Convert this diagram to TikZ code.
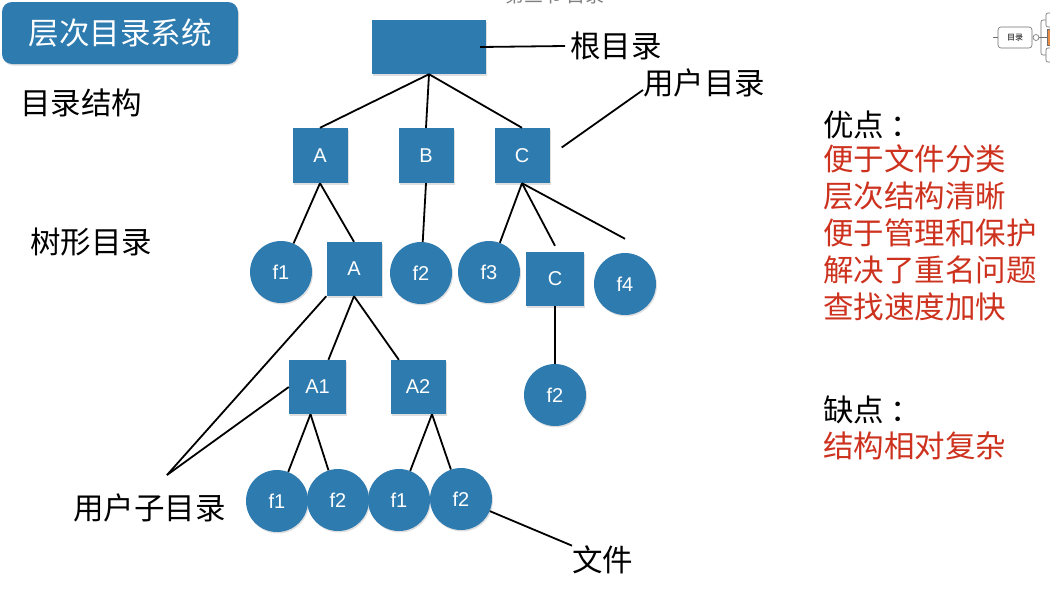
\documentclass[tikz,border=0pt]{standalone}
\usepackage{fontspec}
\setmainfont{Liberation Sans}
\newfontfamily\cjk{Noto Sans CJK SC}
\usetikzlibrary{shadows}
\definecolor{dirblue}{RGB}{46,123,176}
\definecolor{prored}{RGB}{205,50,30}
\definecolor{mapgray}{RGB}{110,110,110}
\definecolor{maporange}{RGB}{232,140,70}
\newcommand{\dirsize}{55pt}
\newcommand{\fnodesize}{62pt}
\newcommand{\cjksize}{\fontsize{30.5}{37}\selectfont}
\newcommand{\namesize}{\fontsize{20}{22}\selectfont}
\tikzset{
  softshadow/.style={drop shadow={shadow xshift=1pt, shadow yshift=-1.5pt, opacity=0.25}},
  dirbox/.style={rectangle, fill=dirblue, minimum width=\dirsize, minimum height=\dirsize,
    inner sep=0pt, text=white, font=\namesize, softshadow},
  filenode/.style={circle, fill=dirblue, minimum size=\fnodesize, inner sep=0pt,
    text=white, font=\namesize, softshadow},
  note/.style={inner sep=0pt, anchor=west, font=\cjk\cjksize},
  link/.style={draw=black, line width=1.8pt},
  mapline/.style={draw=mapgray, line width=0.6pt}
}

\begin{document}
\begin{tikzpicture}[x=1pt, y=-1pt]
    \useasboundingbox (0,0) rectangle (1050,598);

    % title part
    \node[fill=dirblue, rounded corners=10pt, minimum width=236pt, minimum height=62pt,
      text=white, font=\cjk\cjksize, softshadow] (title) at (120,33) {层次目录系统};
    \node[text=gray, font=\cjk\fontsize{19}{19}\selectfont] (section) at (555,-5) {第三节 目录};

    % mind map part
    \node[mapline, draw, rounded corners=3pt, minimum width=34pt, minimum height=21pt,
      inner sep=0pt, font=\cjk\fontsize{8}{8}\selectfont] (mapnode) at (1015,37.5) {目录};
    \node[mapline, draw, circle, minimum size=6pt, inner sep=0pt] (mapdot) at (1036,37.5) {};
    \node[mapline, draw, rounded corners=2pt, minimum width=12pt, minimum height=14pt] (maptop) at (1052,20) {};
    \node[mapline, draw, fill=maporange, minimum width=10pt, minimum height=16pt] (mapmid) at (1052,37.5) {};
    \node[mapline, draw, rounded corners=2pt, minimum width=12pt, minimum height=14pt] (mapbot) at (1052,55) {};
    \coordinate (mapin) at (993,37.5);
    \coordinate (mapfork) at (1041,37.5);
    \draw[mapline] (mapin) -- (mapnode);
    \draw[mapline] (mapdot) -- (mapfork) -- (mapmid.west);
    \draw[mapline, rounded corners=2pt] (maptop.west) -| (mapfork) |- (mapbot.west);

    % left texts
    \node[note] (struct) at (20,103) {目录结构};
    \node[note] (treelbl) at (30,242) {树形目录};

    % pros and cons
    \node[note] (pros) at (823,125) {优点\hspace{6pt}：};
    \node[note, text=prored, align=left] (proslist) at (823,232.5)
      {便于文件分类\\层次结构清晰\\便于管理和保护\\解决了重名问题\\查找速度加快};
    \node[note] (cons) at (823,410) {缺点\hspace{6pt}：};
    \node[note, text=prored] (conslist) at (823,446) {结构相对复杂};

    % tree part
    \node[dirbox, minimum width=114pt, minimum height=54pt] (root) at (429,47) {};
    \node[dirbox] (dira) at (320,155.5) {A};
    \node[dirbox] (dirb) at (426,155.5) {B};
    \node[dirbox] (dirc) at (522,155.5) {C};
    \node[filenode] (fa1) at (281,272) {f1};
    \node[dirbox, minimum height=54pt] (subA) at (354,269) {A};
    \node[filenode] (fb2) at (421,273) {f2};
    \node[filenode] (fc3) at (489,272) {f3};
    \node[dirbox, minimum width=58pt, minimum height=54pt] (subC) at (555,279) {C};
    \node[filenode] (fc4) at (625,284) {f4};
    \node[filenode] (fcc2) at (555,395) {f2};
    \node[dirbox, minimum width=57pt, minimum height=54pt] (dirA1) at (317.5,387) {A1};
    \node[dirbox, minimum height=54pt] (dirA2) at (418,387) {A2};
    \node[filenode] (fA11) at (277,501) {f1};
    \node[filenode] (fA12) at (338,500) {f2};
    \node[filenode] (fA21) at (399,500) {f1};
    \node[filenode] (fA22) at (461,499) {f2};

    \draw[link] (root.south) -- (dira.north);
    \draw[link] (root.south) -- (dirb.north);
    \draw[link] (root.south) -- (dirc.north);
    \draw[link] (dira.south) -- (fa1);
    \draw[link] (dira.south) -- (subA.north);
    \draw[link] (dirb.south) -- (fb2);
    \draw[link] (dirc.south) -- (fc3);
    \draw[link] (dirc.south) -- ([yshift=6pt]subC.north);
    \draw[link] (dirc.south) -- ([yshift=14pt]fc4.north);
    \draw[link] (subC.south) -- (fcc2);
    \draw[link] (subA.south) -- (dirA1);
    \draw[link] (subA.south) -- (dirA2);
    \draw[link] ([xshift=-7pt]dirA1.south) -- (fA11);
    \draw[link] ([xshift=-7pt]dirA1.south) -- (fA12);
    \draw[link] ([xshift=14pt]dirA2.south) -- (fA21);
    \draw[link] ([xshift=14pt]dirA2.south) -- (fA22);

    % label part
    \node[note] (rootlbl) at (570,46) {根目录};
    \node[note] (userlbl) at (643,83) {用户目录};
    \node[note] (sublbl) at (73,508) {用户子目录};
    \node[note] (filelbl) at (572,560) {文件};
    \coordinate (subtip) at (167,475);

    \draw[link] ([xshift=-6pt]root.east) -- ([xshift=-5pt]rootlbl.west);
    \draw[link] ([xshift=12pt,yshift=8pt]dirc.east) -- ([yshift=-7pt]userlbl.west);
    \draw[link] (subtip) -- (subA.south west);
    \draw[link] (subtip) -- (dirA1.west);
    \draw[link] (fA22) -- (filelbl.north west);
\end{tikzpicture}
\end{document}
